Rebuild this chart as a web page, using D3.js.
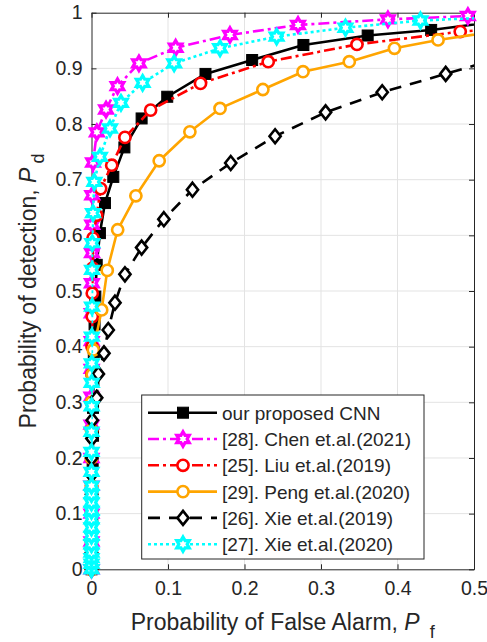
<!DOCTYPE html>
<html>
<head>
<meta charset="utf-8">
<script src="https://cdn.jsdelivr.net/npm/d3@7"></script>
<style>
  body { margin: 0; background: #fff; }
  svg { display: block; }
  text { font-family: "Liberation Sans", Arial, Helvetica, sans-serif; fill: #262626; }
</style>
</head>
<body>
<svg id="chart" width="487" height="642"></svg>
<script>
// ROC points (false-alarm probability Pf, detection probability Pd) for each method
const oursPf = [0, 0.0005, 0.001, 0.001, 0.0015, 0.002, 0.002, 0.0025, 0.003, 0.004, 0.005, 0.0068, 0.011, 0.0176, 0.0285, 0.043, 0.0655, 0.099, 0.149, 0.210, 0.277, 0.361, 0.444, 0.53];
const oursPd = [0, 0.04, 0.09, 0.14, 0.19, 0.24, 0.29, 0.34, 0.39, 0.44, 0.49, 0.547, 0.604, 0.658, 0.705, 0.758, 0.810, 0.849, 0.890, 0.915, 0.942, 0.959, 0.969, 0.984];

const chenPf = [0, 0, 0, 0, 0, 0, 0, 0.0002, 0.0003, 0.0004, 0.0005, 0.0007, 0.0009, 0.001, 0.002, 0.007, 0.019, 0.034, 0.062, 0.110, 0.181, 0.270, 0.3875, 0.492, 0.6];
const chenPd = [0, 0.05, 0.10, 0.15, 0.20, 0.26, 0.31, 0.36, 0.41, 0.46, 0.514, 0.568, 0.619, 0.672, 0.731, 0.785, 0.826, 0.868, 0.909, 0.937, 0.960, 0.978, 0.988, 0.994, 0.998];

const liuPf = [0, 0, 0, 0, 0, 0.0002, 0.0003, 0.0005, 0.0007, 0.001, 0.001, 0.0015, 0.002, 0.0068, 0.012, 0.0264, 0.0437, 0.0773, 0.1425, 0.231, 0.347, 0.482, 0.6];
const liuPd = [0, 0.05, 0.10, 0.15, 0.20, 0.25, 0.30, 0.35, 0.40, 0.454, 0.496, 0.541, 0.595, 0.636, 0.684, 0.726, 0.776, 0.825, 0.873, 0.912, 0.943, 0.966, 0.978];

const pengPf = [0, 0, 0, 0, 0, 0, 0, 0.001, 0.0024, 0.0133, 0.0206, 0.0342, 0.058, 0.0885, 0.1286, 0.168, 0.224, 0.2765, 0.337, 0.396, 0.453, 0.55];
const pengPd = [0, 0.05, 0.10, 0.15, 0.20, 0.25, 0.30, 0.35, 0.394, 0.466, 0.537, 0.610, 0.671, 0.734, 0.786, 0.828, 0.862, 0.894, 0.912, 0.936, 0.951, 0.971];

const xie19Pf = [0, 0, 0, 0, 0, 0, 0.0003, 0.0005, 0.001, 0.0068, 0.009, 0.0163, 0.0219, 0.0307, 0.0437, 0.0655, 0.0946, 0.132, 0.182, 0.240, 0.306, 0.380, 0.463, 0.55];
const xie19Pd = [0, 0.03, 0.065, 0.10, 0.135, 0.17, 0.20, 0.235, 0.268, 0.308, 0.351, 0.388, 0.430, 0.479, 0.530, 0.578, 0.629, 0.682, 0.730, 0.778, 0.821, 0.857, 0.890, 0.925];

const xie20Pf = [0, 0, 0, 0, 0, 0, 0, 0, 0, 0, 0, 0, 0, 0, 0, 0.0002, 0.0003, 0.0004, 0.0005, 0.0007, 0.0008, 0.001, 0.002, 0.0037, 0.011, 0.0242, 0.0385, 0.0668, 0.108, 0.168, 0.242, 0.332, 0.430, 0.55];
const xie20Pd = [0, 0.01, 0.02, 0.03, 0.045, 0.06, 0.075, 0.09, 0.105, 0.12, 0.135, 0.15, 0.175, 0.211, 0.247, 0.293, 0.335, 0.37, 0.418, 0.472, 0.538, 0.586, 0.640, 0.696, 0.741, 0.792, 0.838, 0.874, 0.909, 0.936, 0.957, 0.973, 0.986, 0.993];

const legendLabels = ["our proposed CNN", "[28]. Chen et.al.(2021)", "[25]. Liu et.al.(2019)",
                      "[29]. Peng et.al.(2020)", "[26]. Xie et.al.(2019)", "[27]. Xie et.al.(2020)"];
const xTicks = [0, 0.1, 0.2, 0.3, 0.4, 0.5];
const yTicks = [0, 0.1, 0.2, 0.3, 0.4, 0.5, 0.6, 0.7, 0.8, 0.9, 1];

// Styling for each curve
const series = [
  { pf: oursPf,  pd: oursPd,  color: "#000000", dash: null,        marker: "square" },
  { pf: chenPf,  pd: chenPd,  color: "#ff00ff", dash: "11,4,3,4",  marker: "hexagram" },
  { pf: liuPf,   pd: liuPd,   color: "#ff0000", dash: "11,4,3,4",  marker: "circle" },
  { pf: pengPf,  pd: pengPd,  color: "#ffa500", dash: null,        marker: "circle" },
  { pf: xie19Pf, pd: xie19Pd, color: "#000000", dash: "12,9",      marker: "diamond" },
  { pf: xie20Pf, pd: xie20Pd, color: "#00ffff", dash: "3,3",       marker: "hexagram" }
];

const svg = d3.select("#chart");
const L = 91.5, R = 474, T = 12.7, B = 569.3;
const x = d3.scaleLinear().domain([0, 0.5]).range([L, R]);
const y = d3.scaleLinear().domain([0, 1]).range([B, T]);

svg.append("defs").append("clipPath").attr("id", "plotClip")
  .append("rect").attr("x", L).attr("y", T).attr("width", R - L).attr("height", B - T);

// Grid
const grid = svg.append("g");
grid.selectAll("line.gx").data(xTicks.slice(1, -1)).join("line")
  .attr("x1", d => x(d)).attr("x2", d => x(d)).attr("y1", T).attr("y2", B)
  .attr("stroke", "#e3e3e3").attr("stroke-width", 1);
grid.selectAll("line.gy").data(yTicks.slice(1, -1)).join("line")
  .attr("y1", d => y(d)).attr("y2", d => y(d)).attr("x1", L).attr("x2", R)
  .attr("stroke", "#e3e3e3").attr("stroke-width", 1);

// Axes with inward ticks and a closing box
const fmt = d => (d === 0 ? "0" : d === 1 ? "1" : d3.format(".1f")(d));
svg.append("g").attr("transform", `translate(0,${B})`)
  .call(d3.axisBottom(x).tickValues(xTicks).tickFormat(fmt).tickSizeInner(-5).tickSizeOuter(0).tickPadding(12));
svg.append("g").attr("transform", `translate(${L},0)`)
  .call(d3.axisLeft(y).tickValues(yTicks).tickFormat(fmt).tickSizeInner(-5).tickSizeOuter(0).tickPadding(9));
svg.append("g").attr("transform", `translate(0,${T})`)
  .call(d3.axisTop(x).tickValues(xTicks).tickFormat("").tickSizeInner(-5).tickSizeOuter(0));
svg.append("g").attr("transform", `translate(${R},0)`)
  .call(d3.axisRight(y).tickValues(yTicks).tickFormat("").tickSizeInner(-5).tickSizeOuter(0));
svg.selectAll(".domain").attr("stroke", "#262626").attr("stroke-width", 1);
svg.selectAll(".tick line").attr("stroke", "#262626");
svg.selectAll(".tick text").attr("font-size", 19.5).attr("fill", "#262626")
  .style("font-family", '"Liberation Sans", Arial, sans-serif');

// Marker shapes
function hexagramPath(Rr) {
  const pts = [];
  for (let k = 0; k < 12; k++) {
    const a = -Math.PI / 2 + k * Math.PI / 6;
    const r = k % 2 === 0 ? Rr : Rr / Math.sqrt(3);
    pts.push([r * Math.cos(a), r * Math.sin(a)]);
  }
  return "M" + pts.map(p => p.join(",")).join("L") + "Z";
}
function drawMarker(g, type, cx, cy, color) {
  if (type === "square") {
    g.append("rect").attr("x", cx - 5.5).attr("y", cy - 5.5).attr("width", 11).attr("height", 11)
      .attr("fill", color).attr("stroke", color).attr("stroke-width", 1);
  } else if (type === "circle") {
    g.append("circle").attr("cx", cx).attr("cy", cy).attr("r", 5.6)
      .attr("fill", "#fff").attr("stroke", color).attr("stroke-width", 2.6);
  } else if (type === "diamond") {
    g.append("path").attr("d", `M${cx},${cy - 7}L${cx + 5.6},${cy}L${cx},${cy + 7}L${cx - 5.6},${cy}Z`)
      .attr("fill", "#fff").attr("stroke", color).attr("stroke-width", 2.6).attr("stroke-linejoin", "miter");
  } else if (type === "hexagram") {
    g.append("path").attr("d", hexagramPath(7.2)).attr("transform", `translate(${cx},${cy})`)
      .attr("fill", "#fff").attr("stroke", color).attr("stroke-width", 3.2).attr("stroke-linejoin", "miter");
  }
}

// Curves
const line = d3.line().x(d => x(d[0])).y(d => y(d[1]));
series.forEach(s => {
  const pts = s.pf.map((v, i) => [v, s.pd[i]]);
  const g = svg.append("g");
  g.append("path").datum(pts).attr("d", line)
    .attr("clip-path", "url(#plotClip)")
    .attr("fill", "none").attr("stroke", s.color).attr("stroke-width", 2.6)
    .attr("stroke-dasharray", s.dash).attr("stroke-linejoin", "round");
  pts.filter(p => p[0] <= 0.5).forEach(p => drawMarker(g, s.marker, x(p[0]), y(p[1]), s.color));
});

// Axis titles
const xl = svg.append("text").attr("x", (L + R) / 2).attr("y", 630).attr("text-anchor", "middle").attr("font-size", 23);
xl.append("tspan").text("Probability of False Alarm, ");
xl.append("tspan").attr("font-style", "italic").text("P");
xl.append("tspan").attr("dx", 10).attr("dy", 8).attr("font-size", 18).text("f");

const yl = svg.append("text").attr("transform", `translate(36,${(T + B) / 2}) rotate(-90)`)
  .attr("text-anchor", "middle").attr("font-size", 23);
yl.append("tspan").text("Probability of detection, ");
yl.append("tspan").attr("font-style", "italic").text("P");
yl.append("tspan").attr("dx", 4).attr("dy", 8).attr("font-size", 18).text("d");

// Legend
const lg = svg.append("g");
lg.append("rect").attr("x", 141.7).attr("y", 395).attr("width", 282.3).attr("height", 164)
  .attr("fill", "#fff").attr("stroke", "#262626").attr("stroke-width", 1);
series.forEach((s, i) => {
  const cy = 412.7 + i * 26.3;
  lg.append("line").attr("x1", 148).attr("x2", 217).attr("y1", cy).attr("y2", cy)
    .attr("stroke", s.color).attr("stroke-width", 2.6).attr("stroke-dasharray", s.dash);
  drawMarker(lg, s.marker, 183, cy, s.color);
  lg.append("text").attr("x", 222).attr("y", cy + 7).attr("font-size", 19).text(legendLabels[i]);
});
</script>
</body>
</html>
